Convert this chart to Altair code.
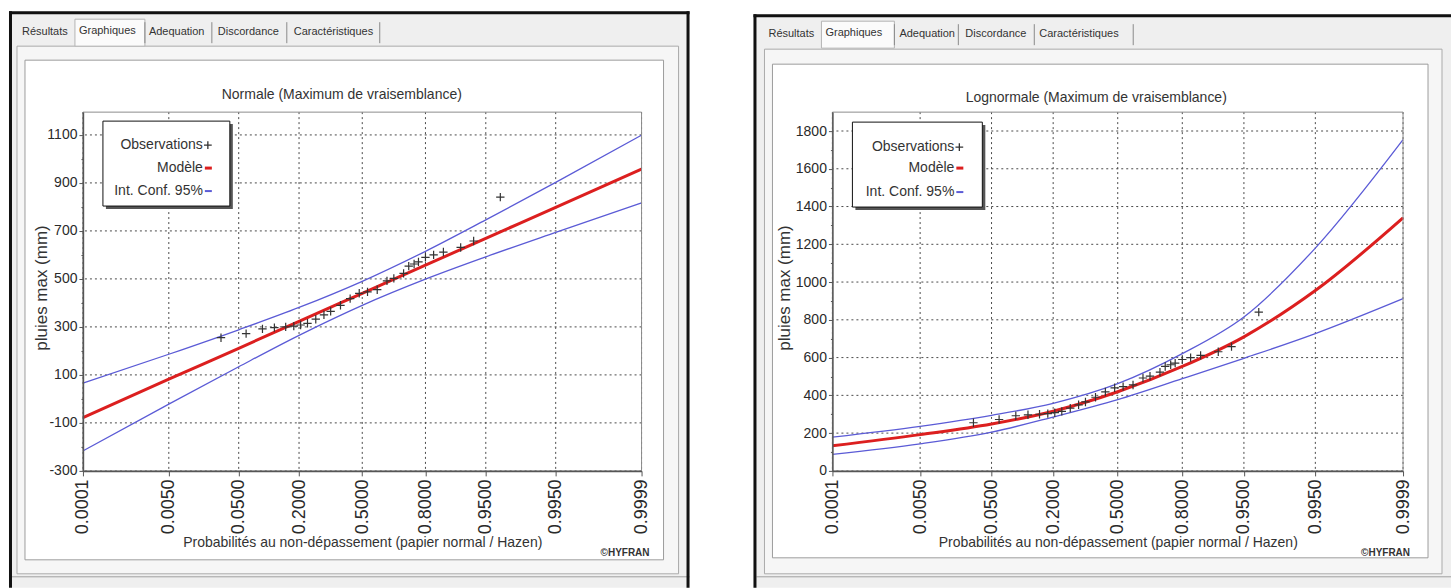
import altair as alt
import pandas as pd
from statistics import NormalDist

FONT = "Liberation Sans"

# ---------------- data ----------------
tick_probs = [0.0001, 0.005, 0.05, 0.2, 0.5, 0.8, 0.95, 0.995, 0.9999]
tick_labels = ["0.0001", "0.0050", "0.0500", "0.2000", "0.5000",
               "0.8000", "0.9500", "0.9950", "0.9999"]

obs_prob = [0.030, 0.061, 0.092, 0.121, 0.154, 0.181, 0.206, 0.233, 0.268, 0.305,
            0.337, 0.386, 0.436, 0.484, 0.528, 0.579, 0.629, 0.663, 0.709, 0.732,
            0.755, 0.773, 0.800, 0.829, 0.860, 0.905, 0.931, 0.967]
obs_value = [255, 272, 292, 297, 300, 303, 308, 315, 332, 350,
             365, 390, 418, 440, 446, 455, 492, 502, 523, 553,
             562, 571, 590, 600, 612, 631, 658, 841]

curve_prob = [0.0001, 0.005, 0.05, 0.2, 0.5, 0.8, 0.95, 0.995, 0.9999]
normal_model = [-78, 82, 211, 323, 440, 557, 669, 798, 958]
normal_upper = [66, 186, 288, 381, 490, 615, 746, 902, 1099]
normal_lower = [-217, -22, 134, 265, 390, 499, 592, 694, 817]
lognormal_model = [133, 192, 248, 316, 419, 553, 710, 955, 1340]
lognormal_upper = [179, 236, 294, 358, 462, 621, 815, 1180, 1754]
lognormal_lower = [87, 143, 205, 285, 377, 488, 596, 727, 912]

normal_y_ticks = list(range(-300, 1101, 100))
normal_y_major = [-300, -100, 100, 300, 500, 700, 900, 1100]
lognormal_y_ticks = list(range(0, 1801, 100))
lognormal_y_major = [0, 200, 400, 600, 800, 1000, 1200, 1400, 1600, 1800]

tab_names = ["Résultats", "Graphiques", "Adequation", "Discordance", "Caractéristiques"]

# ---------------- helpers ----------------
nd = NormalDist()


def zq(p):
    return nd.inv_cdf(p)


ZMIN, ZMAX = zq(tick_probs[0]), zq(tick_probs[-1])

label_expr = "''"
for p, lab in reversed(list(zip(tick_probs, tick_labels))):
    label_expr = f"abs(datum.value - ({zq(p):.6f})) < 0.001 ? '{lab}' : ({label_expr})"

one = pd.DataFrame({"k": [0]})


def panel(cfg):
    ox, oy = cfg["origin"]
    W, H = cfg["W"], cfg["H"]
    layers = []

    def R(x1, y1, x2, y2, **kw):
        layers.append(alt.Chart(one).mark_rect(**kw).encode(
            x=alt.value(x1 - ox), x2=alt.value(x2 - ox),
            y=alt.value(y1 - oy), y2=alt.value(y2 - oy)))

    def L(x1, y1, x2, y2, **kw):
        layers.append(alt.Chart(one).mark_rule(**kw).encode(
            x=alt.value(x1 - ox), x2=alt.value(x2 - ox),
            y=alt.value(y1 - oy), y2=alt.value(y2 - oy)))

    def T(x, y, text, **kw):
        base = dict(font=FONT, fontSize=11, color="#222", align="left", baseline="middle")
        base.update(kw)
        layers.append(alt.Chart(one).mark_text(text=text, **base).encode(
            x=alt.value(x - ox), y=alt.value(y - oy)))

    # ---- window chrome ----
    px0, px1 = cfg["page"]
    R(px0, 0, px1, 588, fill="white")
    wx0, wy0, wx1 = cfg["win"]
    R(wx0, wy0, wx1, 588, fill="#efefef")
    tp = cfg["tabpanel"]
    R(*tp, fill="#f6f6f6", stroke="#ababab", strokeWidth=1)
    wa = cfg["white"]
    R(*wa, fill="white", stroke="#9c9c9c", strokeWidth=1)
    L(wx0 + 3, 577, wx1, 577, color="#a0a0a0", strokeWidth=1)
    # black frame
    R(wx0, wy0, wx0 + 3, 588, fill="#111")
    R(wx0, wy0, wx1, wy0 + 3, fill="#111")
    if cfg["right_black"]:
        R(wx1 - 3, wy0, wx1, 588, fill="#111")
    # tabs
    sx0, sy0, sx1, sy1 = cfg["seltab"]
    R(sx0, sy0, sx1, sy1, fill="#fbfbfb", stroke="#b4b4b4", strokeWidth=1)
    ty = cfg["tab_y"]
    for name, tx in zip(tab_names, cfg["tab_x"]):
        T(tx, ty - (1.5 if name == "Graphiques" else 0), name, fontSize=11, color="#333")
    for sx in cfg["tab_sep"]:
        L(sx, ty - 10, sx, ty + 11, color="#8a8a8a", strokeWidth=1)

    # ---- titles ----
    T(cfg["title_xy"][0], cfg["title_xy"][1], cfg["title"], fontSize=14, align="center", color="#333")
    T(cfg["hyfran_x"], 553, "©HYFRAN", fontSize=10, fontWeight="bold", align="right", color="#333")

    # ---- data layers ----
    test = cfg["major_test"]
    x_axis = alt.Axis(
        values=[zq(p) for p in tick_probs], labelExpr=label_expr, labelAngle=270,
        labelFont=FONT, labelFontSize=18, labelColor="#2a2a2a", labelPadding=3,
        labelFlush=False, labelOverlap=False, tickSize=5, tickColor="#555",
        domainColor="#555", domainWidth=1.5, grid=False,
        title="Probabilités au non-dépassement (papier normal / Hazen)",
        titleFont=FONT, titleFontSize=14, titleFontWeight="normal", titleColor="#333",
        titleX=W / 2, titleY=72, titleBaseline="middle", titleAlign="center", zindex=1)
    y_axis = alt.Axis(
        values=cfg["y_ticks"], labelExpr=f"({test}) ? '' + datum.value : ''",
        tickSize={"condition": {"test": test, "value": 4}, "value": 2},
        labelFont=FONT, labelFontSize=14, labelColor="#2a2a2a", labelPadding=2,
        labelOverlap=False, labelFlush=False, tickColor="#555",
        domainColor="#555", domainWidth=1.5, grid=False,
        title="pluies max  (mm)", titleFont=FONT, titleFontSize=17,
        titleFontWeight="normal", titleColor="#333", titleAngle=270,
        titleX=cfg["ytitle_x"], titleY=H / 2 - 4, titleBaseline="middle",
        titleAlign="center", zindex=1)
    xs = alt.Scale(domain=[ZMIN, ZMAX], nice=False, zero=False)
    ys = alt.Scale(domain=cfg["ydom"], nice=False, zero=False)
    xe = alt.X("z:Q", scale=xs, axis=x_axis)
    ye = alt.Y("v:Q", scale=ys, axis=y_axis)

    gx = pd.DataFrame({"z": [zq(p) for p in tick_probs]})
    gy = pd.DataFrame({"v": cfg["y_major"]})
    layers.append(alt.Chart(gx).mark_rule(color="#4a4a4a", strokeDash=[2, 3], strokeWidth=1).encode(x=xe))
    layers.append(alt.Chart(gy).mark_rule(color="#4a4a4a", strokeDash=[2, 3], strokeWidth=1).encode(y=ye))

    ci = pd.DataFrame({
        "z": [zq(p) for p in curve_prob] * 2,
        "v": cfg["upper"] + cfg["lower"],
        "s": ["upper"] * len(curve_prob) + ["lower"] * len(curve_prob),
    })
    layers.append(alt.Chart(ci).mark_line(color="#5b5bd6", strokeWidth=1.3, interpolate="monotone")
                  .encode(x=xe, y=ye, detail="s:N"))
    md = pd.DataFrame({"z": [zq(p) for p in curve_prob], "v": cfg["model"]})
    layers.append(alt.Chart(md).mark_line(color="#dc1f1f", strokeWidth=3, interpolate="monotone")
                  .encode(x=xe, y=ye))
    ob = pd.DataFrame({"z": [zq(p) for p in obs_prob], "v": obs_value})
    layers.append(alt.Chart(ob).mark_point(shape="M-1,0L1,0M0,-1L0,1", filled=False, size=70,
                                           strokeWidth=1.2, color="#333", opacity=1)
                  .encode(x=xe, y=ye))

    # plot frame (top / right borders)
    layers.append(alt.Chart(one).mark_rect(fill=None, stroke="#8c8c8c", strokeWidth=1).encode(
        x=alt.value(0), x2=alt.value(W), y=alt.value(0), y2=alt.value(H)))

    # ---- legend box ----
    bx0, by0, bx1, by1 = cfg["legend_box"]
    R(bx0 + 3, by0 + 3, bx1 + 3, by1 + 3, fill="#555")
    R(bx0, by0, bx1, by1, fill="white", stroke="#111", strokeWidth=1)
    tx = cfg["legend_text_x"]
    r1, r2, r3 = cfg["legend_rows"]
    T(tx, r1, "Observations", fontSize=14, align="right", color="#333")
    T(tx, r2, "Modèle", fontSize=14, align="right", color="#333")
    T(tx, r3, "Int. Conf. 95%", fontSize=14, align="right", color="#333")
    layers.append(alt.Chart(one).mark_point(shape="M-1,0L1,0M0,-1L0,1", filled=False, size=60,
                                            strokeWidth=1.3, color="#333", opacity=1).encode(
        x=alt.value(tx + 5 - ox), y=alt.value(r1 - oy)))
    L(tx + 2, r2, tx + 9, r2, color="#dc1f1f", strokeWidth=3)
    L(tx + 2, r3, tx + 9, r3, color="#5b5bd6", strokeWidth=2)

    return alt.layer(*layers).properties(width=W, height=H)


left_cfg = dict(
    origin=(83, 112), W=559, H=359, page=(0, 722), win=(9, 11, 690), right_black=True,
    tabpanel=(17, 46, 679, 574), white=(25, 60, 664, 560),
    seltab=(75, 19, 145, 46), tab_y=32, tab_x=[22, 79, 149, 218, 294],
    tab_sep=[145, 212, 287, 380],
    title="Normale (Maximum de vraisemblance)", title_xy=(342, 95), hyfran_x=650,
    ydom=[-300, 1195], y_ticks=normal_y_ticks, y_major=normal_y_major,
    major_test="abs(datum.value) % 200 == 100", ytitle_x=-41,
    model=normal_model, upper=normal_upper, lower=normal_lower,
    legend_box=(103, 121, 230, 206), legend_text_x=203, legend_rows=(145, 168, 191),
)

right_cfg = dict(
    origin=(833, 112), W=571, H=359, page=(722, 1452), win=(754, 14, 1452), right_black=False,
    tabpanel=(765, 49, 1443, 574), white=(773, 64, 1429, 558),
    seltab=(822, 21, 895, 48), tab_y=34, tab_x=[769, 826, 900, 966, 1040],
    tab_sep=[895, 959, 1035, 1134],
    title="Lognormale (Maximum de vraisemblance)", title_xy=(1097, 98), hyfran_x=1411,
    ydom=[0, 1900], y_ticks=lognormal_y_ticks, y_major=lognormal_y_major,
    major_test="datum.value % 200 == 0", ytitle_x=-48,
    model=lognormal_model, upper=lognormal_upper, lower=lognormal_lower,
    legend_box=(853, 122, 983, 207), legend_text_x=955, legend_rows=(147, 168, 192),
)

chart = alt.hconcat(panel(left_cfg), panel(right_cfg), spacing=0).properties(
    padding=0, background="white").configure_view(stroke=None)

chart.save("out.html", embed_options={"renderer": "svg", "actions": False})
